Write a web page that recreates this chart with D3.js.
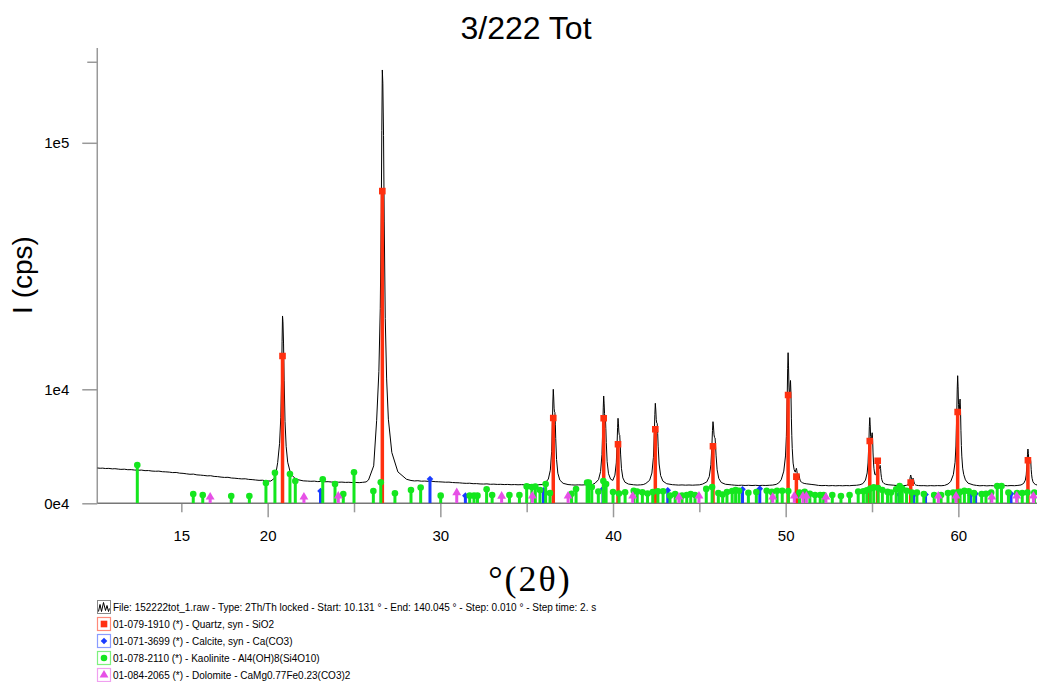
<!DOCTYPE html>
<html><head><meta charset="utf-8">
<script src="https://cdn.jsdelivr.net/npm/d3@7"></script>
<style>
html,body{margin:0;padding:0;background:#fff;}
svg{display:block;font-family:"Liberation Sans",Arial,sans-serif;}
</style></head><body>
<svg id="c" width="1037" height="682"></svg>
<script>
const titleText = "3/222 Tot";
const yLabelText = "I (cps)";
const xLabelText = "°(2θ)";

// measured pattern [2theta, cps]
const scan = [
[10.131,960],[10.3,945],[10.45,952],[10.6,930],[10.8,938],[11.0,912],[11.15,922],[11.35,900],[11.5,885],[11.7,895],[11.9,868],[12.1,872],[12.3,850],[12.5,842],[12.7,848],[12.9,820],[13.1,825],[13.3,800],[13.5,790],[13.7,796],[13.9,768],[14.1,760],[14.3,748],[14.5,725],[14.7,732],[14.9,700],[15.1,690],[15.3,668],[15.5,648],[15.7,655],[15.9,622],[16.1,612],[16.3,598],[16.5,580],[16.7,585],[16.9,556],[17.1,548],[17.3,528],[17.5,515],[17.7,520],[17.9,492],[18.1,484],[18.3,470],[18.5,458],[18.7,462],[18.9,440],[19.1,432],[19.3,418],[19.5,405],[19.7,410],[19.9,388],[20.05,384],
[20.18,380],[20.435,505],[20.58,1275],[20.69,2770],[20.76,5700],[20.81,12350],[20.835,20070],[20.86,27000],[20.885,25400],[20.92,19540],[20.955,11550],[21.005,5160],[21.07,2500],[21.16,1300],[21.33,670],[21.63,445],[22.06,388],
[22.3,380],[22.5,372],[22.7,378],[22.9,362],[23.1,368],[23.3,356],[23.5,360],[23.7,348],[23.9,352],[24.1,342],[24.3,346],[24.5,336],[24.7,340],[24.9,330],[25.1,334],[25.3,328],[25.5,338],[25.7,352],
[25.84,418],[26.14,1080],[26.31,5260],[26.44,13330],[26.52,29200],[26.58,65200],[26.61,107000],[26.64,144470],[26.67,135800],[26.71,104100],[26.75,60900],[26.81,26300],[26.89,11900],[26.99,5440],[27.19,1985],[27.54,760],[28.04,445],
[28.3,400],[28.5,385],[28.7,392],[28.9,376],[29.1,380],[29.3,370],[29.5,374],[29.7,360],[29.9,356],[30.1,350],[30.3,342],[30.5,345],[30.7,332],[30.9,326],[31.1,322],[31.3,312],[31.5,306],[31.7,310],[31.9,296],[32.1,298],[32.3,288],[32.5,285],[32.7,290],[32.9,278],[33.1,282],[33.3,274],[33.5,277],[33.7,270],[33.9,274],[34.1,266],[34.3,270],[34.5,264],[34.7,268],[34.9,262],[35.1,266],[35.3,270],[35.5,262],[35.7,266],[35.9,270],
[36.065,316],[36.255,453],[36.369,843],[36.445,2041],[36.493,5080],[36.516,7896],[36.54,10000],[36.564,8704],[36.588,6960],[36.611,6425],[36.635,6337],[36.659,4817],[36.683,3210],[36.73,1476],[36.806,696],[36.92,414],[37.11,307],[37.395,270],
[37.6,262],[37.8,256],[38.0,262],[38.2,258],[38.4,264],[38.6,262],[38.8,270],
[38.96,310],[39.16,430],[39.28,774],[39.36,1832],[39.41,4516],[39.435,7002],[39.46,8860],[39.485,7716],[39.51,6176],[39.535,5703],[39.56,5626],[39.585,4284],[39.61,2864],[39.66,1333],[39.74,672],[39.86,449],
[39.99,403],[40.11,610],[40.19,1253],[40.24,2897],[40.265,4425],[40.29,5560],[40.315,4855],[40.34,3906],[40.365,3614],[40.39,3566],[40.415,2739],[40.44,1865],[40.49,921],[40.57,497],[40.69,343],[40.89,285],[41.19,264],
[41.4,256],[41.6,262],[41.75,270],
[41.9,303],[42.12,407],[42.252,704],[42.34,1619],[42.395,3939],[42.423,6089],[42.45,7695],[42.478,6706],[42.505,5375],[42.533,4966],[42.56,4899],[42.588,3739],[42.615,2511],[42.67,1188],[42.758,593],[42.89,377],[43.11,295],[43.44,267],
[43.6,262],[43.8,255],[44.0,260],[44.2,253],[44.4,258],[44.6,252],[44.8,258],[45.0,262],
[45.19,284],[45.43,352],[45.574,547],[45.67,1146],[45.73,2666],[45.76,4073],[45.79,5125],[45.82,4477],[45.85,3606],[45.88,3338],[45.91,3294],[45.94,2534],[45.97,1731],[46.03,864],[46.126,474],[46.27,333],[46.51,279],[46.87,261],
[47.05,252],[47.25,246],[47.45,252],[47.65,244],[47.85,250],[48.05,243],[48.25,249],[48.45,242],[48.65,248],[48.85,244],[49.05,250],[49.25,256],[49.45,275],[49.6,320],
[49.74,426],[49.89,796],[49.99,1725],[50.04,3445],[50.09,8848],[50.115,13957],[50.14,17450],[50.165,14525],[50.19,10396],[50.215,8675],[50.24,9364],[50.26,10912],[50.28,11600],[50.305,9364],[50.33,5579],[50.355,3514],[50.38,2310],[50.43,1243],[50.49,870],
[50.555,745],[50.595,872],[50.62,942],[50.645,827],[50.67,679],[50.695,615],[50.72,616],[50.74,641],[50.76,655],[50.785,589],[50.81,478],[50.835,415],[50.86,377],[50.91,344],[50.97,326],[51.07,304],[51.22,291],[51.52,272],
[51.7,262],[51.9,246],[52.1,240],[52.3,245],[52.5,236],[52.7,242],[52.9,235],[53.1,241],[53.3,236],[53.5,242],[53.7,238],[53.9,246],[54.1,250],[54.3,265],
[54.47,298],[54.62,415],[54.72,709],[54.77,1250],[54.82,2947],[54.845,4552],[54.87,5650],[54.895,4733],[54.92,3438],[54.945,2900],[54.97,3121],[54.99,3609],[55.01,3828],[55.035,3130],[55.06,1949],[55.085,1307],[55.11,944],[55.16,640],[55.2,630],[55.23,633],[55.255,772],[55.28,969],[55.305,1322],[55.33,1558],[55.355,1341],[55.38,1038],[55.405,908],[55.43,952],[55.45,1061],[55.47,1109],[55.495,944],[55.52,668],[55.545,517],[55.57,427],[55.62,344],[55.68,308],[55.78,281],[55.93,265],[56.23,253],
[56.4,244],[56.6,238],[56.75,244],
[56.84,240],[56.99,248],[57.09,269],[57.14,307],[57.19,426],[57.215,539],[57.24,616],[57.265,551],[57.29,460],[57.315,422],[57.34,437],[57.36,472],[57.38,487],[57.405,437],[57.43,354],[57.455,308],[57.48,282],[57.53,258],[57.59,249],[57.69,242],[57.84,238],
[58.0,240],[58.2,234],[58.4,240],[58.6,235],[58.8,241],[59.0,237],[59.2,246],[59.4,285],
[59.56,367],[59.71,631],[59.81,1295],[59.86,2524],[59.91,6384],[59.935,10035],[59.96,12530],[59.985,10440],[60.01,7490],[60.035,6261],[60.06,6753],[60.08,7859],[60.1,8351],[60.125,6753],[60.15,4049],[60.175,2573],[60.2,1713],[60.25,951],[60.31,644],[60.41,422],[60.56,312],[60.86,261],
[61.05,246],[61.25,236],[61.45,242],[61.65,234],[61.85,240],[62.05,235],[62.25,241],[62.45,236],[62.65,242],[62.85,236],[63.05,242],[63.25,238],[63.45,246],
[63.63,259],[63.78,303],[63.88,413],[63.93,616],[63.98,1253],[64.005,1856],[64.03,2268],[64.055,1923],[64.08,1436],[64.105,1233],[64.13,1314],[64.15,1497],[64.17,1578],[64.195,1314],[64.22,867],[64.245,624],[64.27,482],[64.32,356],[64.38,305],[64.48,268],[64.63,250],[64.8,244],[65.0,238]
];

// reference patterns (stick positions and heights, cps)
const quartz = [[20.86,16700],[26.64,75000],[36.54,5600],[39.46,5560],[40.29,2680],[42.45,4215],[45.79,2500],[50.14,9025],[50.62,545],[54.87,2985],[55.33,1395],[57.24,327],[59.96,6415],[64.03,1423]];
const calcite = [[23.06,116],[29.4,455],[31.45,45],[35.97,130],[39.42,160],[43.17,130],[47.5,150],[48.5,165],[56.57,60],[57.4,50],[58.1,60],[60.7,50],[61.0,70],[63.05,70]];
const kaolinite = [[12.45,1130],[15.69,67],[16.24,53],[17.89,41],[18.94,41],[19.9,316],[20.42,720],[21.29,660],[21.6,383],[23.19,443],[23.9,287],[24.38,67],[25.0,740],[26.12,116],[26.55,340],[27.37,77],[28.3,136],[28.86,190],[30.02,45],[31.7,45],[31.95,45],[32.15,45],[32.68,150],[33.0,53],[34.0,53],[34.58,53],[35.0,220],[35.3,204],[35.5,215],[35.77,136],[36.1,287],[36.35,82],[37.6,70],[37.86,157],[38.5,330],[38.6,330],[38.77,204],[39.15,105],[39.44,383],[39.6,287],[40.0,98],[40.35,75],[40.7,95],[41.2,120],[41.4,105],[41.7,95],[42.0,75],[42.3,98],[42.6,110],[42.9,110],[43.3,45],[43.6,67],[44.0,45],[44.27,53],[44.5,67],[44.75,53],[45.4,160],[45.74,204],[46.1,82],[46.35,60],[46.6,98],[46.9,116],[47.1,136],[47.3,120],[47.84,85],[48.3,98],[48.9,120],[49.2,100],[49.5,120],[49.8,120],[50.15,116],[50.8,90],[51.1,100],[51.4,70],[51.7,53],[52.0,53],[52.2,53],[52.7,53],[53.2,41],[53.7,53],[54.2,105],[54.5,110],[54.7,130],[54.9,170],[55.1,200],[55.35,180],[55.6,136],[55.9,100],[56.1,90],[56.4,150],[56.6,230],[56.75,170],[57.0,120],[57.3,90],[57.6,90],[58.0,65],[58.6,53],[59.0,53],[59.4,82],[59.7,90],[59.9,90],[60.1,100],[60.35,120],[60.6,110],[60.9,82],[61.35,67],[61.6,70],[61.9,90],[62.25,230],[62.5,230],[62.9,90],[63.4,82],[63.7,82],[64.0,90],[64.4,90]];
const dolomite = [[16.67,30],[22.1,30],[24.09,41],[30.95,86],[33.55,40],[35.33,41],[37.4,41],[41.14,41],[43.82,30],[44.98,41],[49.25,30],[50.5,41],[51.0,41],[51.2,41],[52.33,30],[58.84,41],[59.87,41],[61.94,30],[63.38,41],[64.35,41]];

const xTickValues = [15,20,25,30,35,40,45,50,55,60];
const xLabelled = [15,20,30,40,50,60];
const yTickValues = [0,10000,100000,150000];
const yTickLabels = ["0e4","1e4","1e5",""];

const legendItems = [
  {kind:"scan", text:"File: 152222tot_1.raw - Type: 2Th/Th locked - Start: 10.131 ° - End: 140.045 ° - Step: 0.010 ° - Step time: 2. s"},
  {kind:"quartz", text:"01-079-1910 (*) - Quartz, syn - SiO2"},
  {kind:"calcite", text:"01-071-3699 (*) - Calcite, syn - Ca(CO3)"},
  {kind:"kaolinite", text:"01-078-2110 (*) - Kaolinite - Al4(OH)8(Si4O10)"},
  {kind:"dolomite", text:"01-084-2065 (*) - Dolomite - CaMg0.77Fe0.23(CO3)2"}
];

const phases = [
  {name:"quartz", data:quartz, color:"#ff3010", light:"#ff8a7a", sym:d3.symbolSquare, size:44, rot:0, bw:3.5},
  {name:"calcite", data:calcite, color:"#1a3cff", light:"#8a9cff", sym:d3.symbolSquare, size:22, rot:45, bw:3},
  {name:"kaolinite", data:kaolinite, color:"#14e61e", light:"#7ef07e", sym:d3.symbolCircle, size:34, rot:0, bw:3},
  {name:"dolomite", data:dolomite, color:"#e650e6", light:"#f0a0f0", sym:d3.symbolTriangle, size:34, rot:0, bw:3}
];

const svg = d3.select("#c");
const x = d3.scaleLinear().domain([10,65]).range([95, 95 + 55*17.267]);
const y = d3.scaleSqrt().domain([0,159500]).range([503.3,48]);
const x0 = x(10.131);

svg.append("defs").append("clipPath").attr("id","plot")
  .append("rect").attr("x",x0).attr("y",0).attr("width",1037-x0).attr("height",503.3);

// title and axis labels
svg.append("text").attr("x",526).attr("y",39).attr("text-anchor","middle")
  .attr("font-size",32).attr("fill","#000").text(titleText);
svg.append("text").attr("transform","translate(32,275) rotate(-90)").attr("text-anchor","middle")
  .attr("font-size",28).text(yLabelText);
svg.append("text").attr("x",530).attr("y",591).attr("text-anchor","middle")
  .attr("font-family","'Liberation Serif','DejaVu Serif',serif").attr("font-size",36)
  .attr("letter-spacing",2).text(xLabelText);

// y axis
const yAxis = d3.axisLeft(y).tickValues(yTickValues).tickFormat((d,i)=>yTickLabels[i]).tickSize(15).tickPadding(13);
const gy = svg.append("g").attr("transform",`translate(${x0},0)`).call(yAxis);
gy.select(".domain").remove();
gy.selectAll(".tick line").attr("stroke","#999").attr("stroke-width",1.5)
  .attr("x2",d=> d===150000 ? -10 : -15);
gy.selectAll(".tick text").attr("font-size",15).attr("fill","#000").attr("font-family","'Liberation Sans',Arial,sans-serif");
svg.append("line").attr("x1",x0).attr("x2",x0).attr("y1",48).attr("y2",503.3).attr("stroke","#999").attr("stroke-width",1.5);

// x axis
const xAxis = d3.axisBottom(x).tickValues(xTickValues).tickFormat(d=> xLabelled.includes(d) ? String(d) : "").tickSize(14).tickPadding(13);
const gx = svg.append("g").attr("transform","translate(0,503.3)").call(xAxis);
gx.select(".domain").remove();
gx.selectAll(".tick line").attr("stroke","#999").attr("stroke-width",1.5).attr("y2",d=> d%10===0 ? 14 : 9);
gx.selectAll(".tick text").attr("font-size",15).attr("fill","#000").attr("font-family","'Liberation Sans',Arial,sans-serif");
svg.append("line").attr("x1",x0).attr("x2",1037).attr("y1",503.3).attr("y2",503.3).attr("stroke","#777").attr("stroke-width",1.5);

const plot = svg.append("g").attr("clip-path","url(#plot)");

// scan curve
const line = d3.line().x(d=>x(d[0])).y(d=>y(d[1]));
plot.append("path").datum(scan).attr("d",line).attr("fill","none").attr("stroke","#000").attr("stroke-width",1);

// sticks with markers
phases.forEach(p=>{
  const g = plot.append("g");
  g.selectAll("rect").data(p.data).join("rect")
    .attr("x",d=>x(d[0])-p.bw/2).attr("width",p.bw)
    .attr("y",d=>y(d[1])).attr("height",d=>y(0)-y(d[1]))
    .attr("fill",p.color);
  g.selectAll("path").data(p.data).join("path")
    .attr("d",d3.symbol().type(p.sym).size(p.size))
    .attr("transform",d=>`translate(${x(d[0])},${y(d[1])}) rotate(${p.rot})`)
    .attr("fill",p.color);
});

// legend
const rowY = [607,624,641,658,675];
const lg = svg.append("g");
legendItems.forEach((it,i)=>{
  const cy = rowY[i];
  const bx = 97.5, by = cy-6.5, bs = 13;
  if(it.kind==="scan"){
    lg.append("rect").attr("x",bx).attr("y",by).attr("width",bs).attr("height",bs)
      .attr("fill","#fff").attr("stroke","#888").attr("stroke-width",1);
    lg.append("path").attr("d",`M${bx+1},${by+11} L${bx+2.5},${by+4} L${bx+4},${by+11} L${bx+6},${by+2} L${bx+8},${by+10} L${bx+9.5},${by+5} L${bx+11},${by+11} L${bx+12},${by+8}`)
      .attr("fill","none").attr("stroke","#000").attr("stroke-width",1);
  } else {
    const p = phases.find(q=>q.name===it.kind);
    lg.append("rect").attr("x",bx).attr("y",by).attr("width",bs).attr("height",bs)
      .attr("fill","#fff").attr("stroke",p.light).attr("stroke-width",1.2);
    lg.append("path").attr("d",d3.symbol().type(p.sym).size(p.size))
      .attr("transform",`translate(${bx+bs/2},${cy}) rotate(${p.rot})`).attr("fill",p.color);
  }
  lg.append("text").attr("x",113).attr("y",cy+4).attr("font-size",10).attr("fill","#000").text(it.text);
});
</script>
</body></html>
